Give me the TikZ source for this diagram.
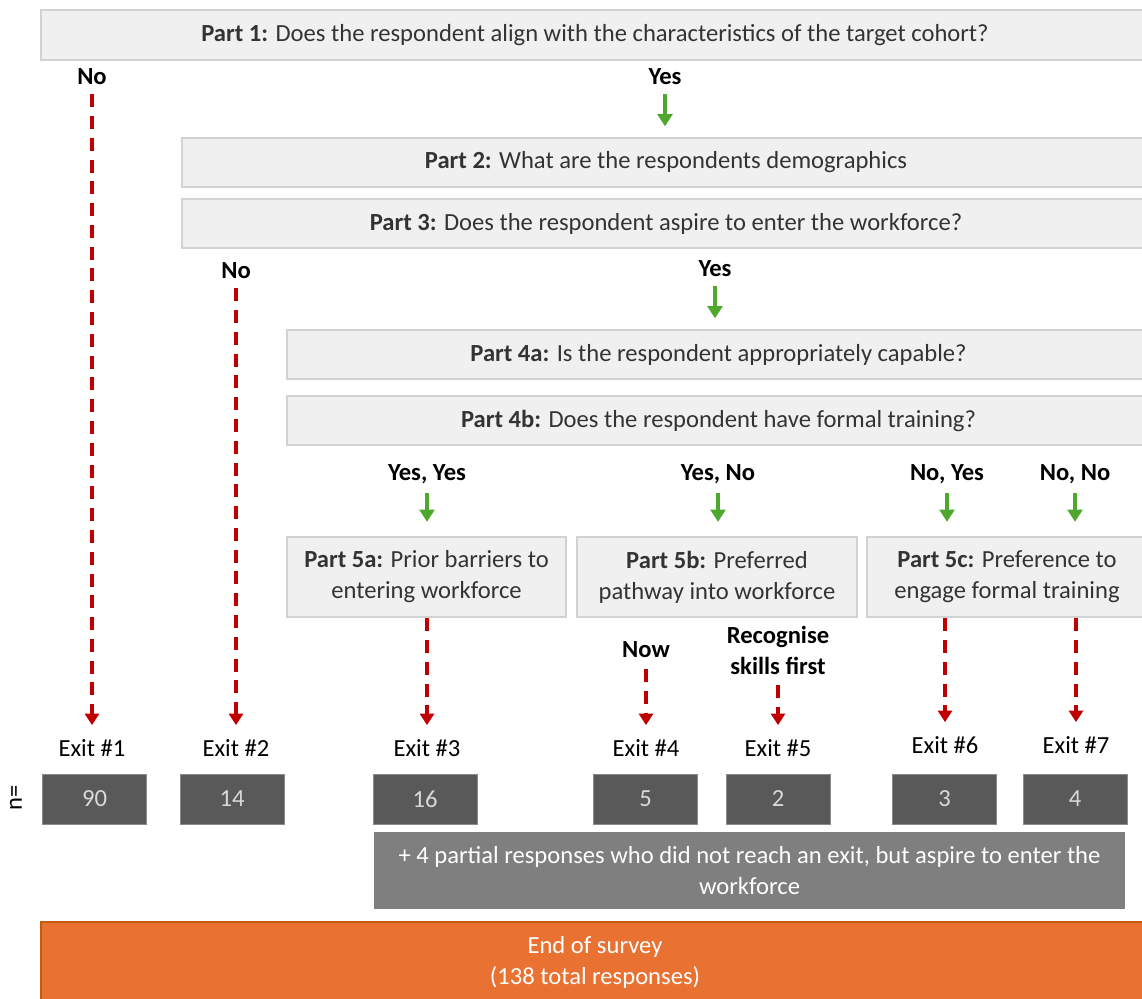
\documentclass[tikz,border=0pt]{standalone}
\usepackage{fontspec}
\setmainfont{Carlito}
\usetikzlibrary{arrows.meta}
\definecolor{qfill}{HTML}{F0F0F0}
\definecolor{qline}{HTML}{D2D2D2}
\definecolor{ngray}{HTML}{595959}
\definecolor{ntext}{HTML}{D9D9D9}
\definecolor{pgray}{HTML}{7F7F7F}
\definecolor{nored}{HTML}{C00000}
\definecolor{yesgreen}{HTML}{4EA72E}
\definecolor{endorange}{HTML}{E97132}
\definecolor{endline}{HTML}{C55A11}
\def\fs{\fontsize{14}{17.6}\selectfont}
\tikzstyle{qbox}=[draw=qline, line width=1.3pt, fill=qfill, text=black!80,
    align=center, font=\fs, inner sep=0pt, minimum height=0.98cm]
\tikzstyle{lbl}=[font=\fs\bfseries, align=center, inner sep=1pt]
\tikzstyle{exitlbl}=[font=\fs, inner sep=1pt]
\tikzstyle{nbox}=[fill=ngray, draw=ngray!70, line width=0.4pt, text=ntext,
    font=\fs, minimum width=2.08cm, minimum height=1cm, inner sep=0pt]
\tikzstyle{nopath}=[draw=nored, line width=2pt, dash pattern=on 7.4pt off 5pt,
    -{Triangle[width=8pt,length=6.5pt]}]
\tikzstyle{yespath}=[draw=yesgreen, line width=1.9pt,
    -{Triangle[width=8.5pt,length=7pt]}]

\begin{document}
\begin{tikzpicture}[x=0.02cm, y=-0.02cm]
    \useasboundingbox (0,0) rectangle (1142,998);

    % question boxes
    \path (595,35) node (p1) [qbox, minimum width=22.16cm, minimum height=1cm]
        {\textbf{Part 1:} Does the respondent align with the characteristics of the target cohort?};
    \path (666,162.5) node (p2) [qbox, minimum width=19.36cm]
        {\textbf{Part 2:} What are the respondents demographics};
    \path (666,223.5) node (p3) [qbox, minimum width=19.36cm]
        {\textbf{Part 3:} Does the respondent aspire to enter the workforce?};
    \path (718.5,354.5) node (p4a) [qbox, minimum width=17.26cm]
        {\textbf{Part 4a:} Is the respondent appropriately capable?};
    \path (718.5,420.5) node (p4b) [qbox, minimum width=17.26cm]
        {\textbf{Part 4b:} Does the respondent have formal training?};
    \path (426.5,577) node (p5a) [qbox, minimum width=5.58cm, minimum height=1.6cm]
        {\textbf{Part 5a:} Prior barriers to\\entering workforce};
    \path (717,577) node (p5b) [qbox, minimum width=5.6cm, minimum height=1.6cm]
        {\textbf{Part 5b:} Preferred\\pathway into workforce};
    \path (1007,577) node (p5c) [qbox, minimum width=5.6cm, minimum height=1.6cm]
        {\textbf{Part 5c:} Preference to\\engage formal training};

    % answers
    \path (92,77) node (no1) [lbl] {No};
    \path (665,77) node (yes1) [lbl] {Yes};
    \path (236,271) node (no2) [lbl] {No};
    \path (715,269) node (yes2) [lbl] {Yes};
    \path (427,474) node (yy) [lbl] {Yes, Yes};
    \path (718,474) node (yn) [lbl] {Yes, No};
    \path (947,474) node (ny) [lbl] {No, Yes};
    \path (1075,474) node (nn) [lbl] {No, No};
    \path (646,650) node (now) [lbl] {Now};
    \path (778,650) node (skills) [lbl] {Recognise\\skills first};

    % exits
    \path (92,748) node (e1) [exitlbl] {Exit \#1};
    \path (236,748) node (e2) [exitlbl] {Exit \#2};
    \path (427,748) node (e3) [exitlbl] {Exit \#3};
    \path (646,748) node (e4) [exitlbl] {Exit \#4};
    \path (778,748) node (e5) [exitlbl] {Exit \#5};
    \path (945,745) node (e6) [exitlbl] {Exit \#6};
    \path (1076,745) node (e7) [exitlbl] {Exit \#7};

    \path (16,798) node (neq) [exitlbl, rotate=90] {n=};
    \path (94.5,799) node (n1) [nbox] {90};
    \path (232,799) node (n2) [nbox] {14};
    \path (425,799) node (n3) [nbox] {16};
    \path (645.5,799) node (n4) [nbox] {5};
    \path (778,799) node (n5) [nbox] {2};
    \path (944.5,799) node (n6) [nbox] {3};
    \path (1075,799) node (n7) [nbox] {4};

    \path (749.5,870.5) node (partial) [fill=pgray, text=white, font=\fs, align=center,
        minimum width=15.02cm, minimum height=1.54cm, inner sep=0pt]
        {+ 4 partial responses who did not reach an exit, but aspire to enter the\\workforce};
    \path (595,962) node (end) [fill=endorange, draw=endline, line width=1pt, text=white,
        font=\fs, align=center, minimum width=22.16cm, minimum height=1.6cm, inner sep=0pt]
        {End of survey\\(138 total responses)};

    % yes arrows
    \draw [yespath, shorten <=4pt, shorten >=6pt] (yes1) -- (yes1 |- p2.north);
    \draw [yespath, shorten <=4pt, shorten >=6pt] (yes2) -- (yes2 |- p4a.north);
    \foreach \a/\b in {yy/p5a, yn/p5b, ny/p5c, nn/p5c}
        \draw [yespath, shorten <=4pt, shorten >=8pt] (\a) -- (\a |- \b.north);

    % no arrows
    \draw [nopath, shorten <=4pt, shorten >=7pt] (no1) -- (e1);
    \draw [nopath, shorten <=4pt, shorten >=7pt] (no2) -- (e2);
    \draw [nopath, shorten >=7pt] (p5a.south -| e3) -- (e3);
    \draw [nopath, shorten <=5pt, shorten >=7pt] (now) -- (e4);
    \draw [nopath, shorten <=5pt, shorten >=7pt] (skills) -- (e5);
    \draw [nopath, shorten >=7pt] (p5c.south -| e6) -- (e6);
    \draw [nopath, shorten >=7pt] (p5c.south -| e7) -- (e7);
\end{tikzpicture}
\end{document}
